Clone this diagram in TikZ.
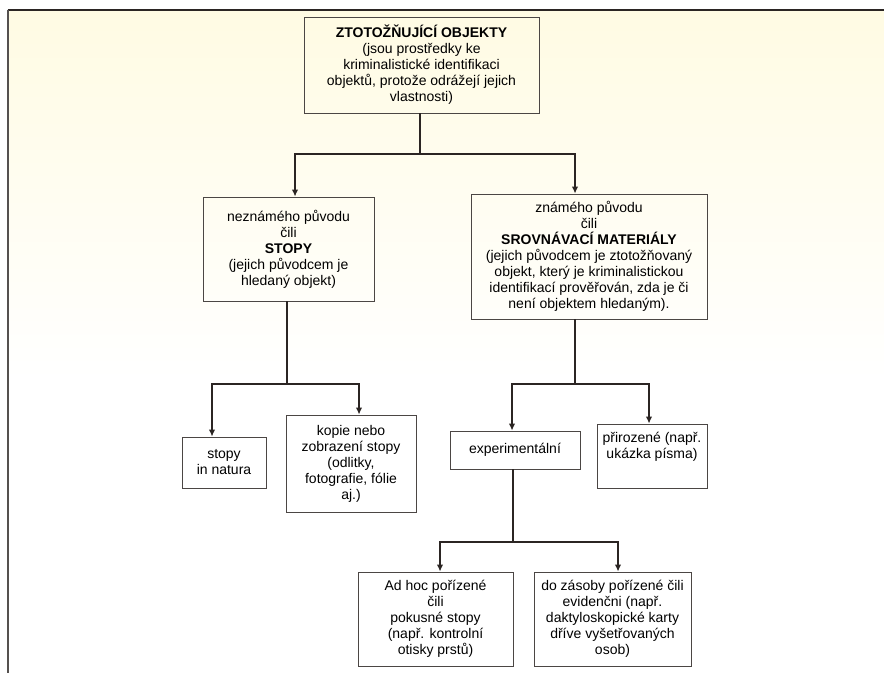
\documentclass[tikz,border=0pt]{standalone}
\usepackage{fontspec}
\setmainfont{Liberation Sans}
\usetikzlibrary{arrows.meta}
\definecolor{ink}{HTML}{2B2523}
\definecolor{paper}{HTML}{FFFBE3}
\begin{document}
\begin{tikzpicture}[x=1pt,y=-1pt,
	box/.style={draw=ink!85, line width=0.8pt, inner sep=0pt, align=center,
		font=\fontsize{14}{16}\selectfont},
	link/.style={draw=ink, line width=1.6pt},
	linkarrow/.style={link, -{Latex[length=7pt,width=6.5pt]}}]

	\useasboundingbox (0,0) rectangle (884,673);
	\shade[top color=paper, bottom color=white] (9,11) rectangle (884,380);
	\draw[ink, line width=2.6pt] (7.5,10) -- (884,10);
	\draw[ink!80, line width=1.8pt] (8,10) -- (8,673);

	\node (objekty) at (421.5,65) [box, minimum width=235, minimum height=96]
		{\textbf{ZTOTOŽŇUJÍCÍ OBJEKTY}\\(jsou prostředky ke\\kriminalistické identifikaci\\objektů, protože odrážejí jejich\\vlastnosti)};
	\node (stopy) at (288.5,249) [box, minimum width=171, minimum height=104]
		{neznámého původu\\čili\\\textbf{STOPY}\\(jejich původcem je\\hledaný objekt)};
	\node (srovnavaci) at (589,256.5) [box, minimum width=236, minimum height=125]
		{známého původu\\čili\\\textbf{SROVNÁVACÍ MATERIÁLY}\\(jejich původcem je ztotožňovaný\\objekt, který je kriminalistickou\\identifikací prověřován, zda je či\\není objektem hledaným).};
	\node (natura) at (224,462.5) [box, minimum width=84, minimum height=51]
		{stopy\\in natura};
	\node (kopie) at (351,463.5) [box, minimum width=130, minimum height=97]
		{kopie nebo\\zobrazení stopy\\(odlitky,\\fotografie, fólie\\aj.)};
	\node (experiment) at (515,450) [box, minimum width=130, minimum height=38]
		{experimentální};
	\node (prirozene) at (652,456) [box, minimum width=110, minimum height=64]
		{přirozené (např.\\ukázka písma)\\[6pt]};
	\node (adhoc) at (435.5,619) [box, minimum width=155, minimum height=94]
		{Ad hoc pořízené\\čili\\pokusné stopy\\(např. kontrolní\\otisky prstů)};
	\node (zasoba) at (612.5,619) [box, minimum width=157, minimum height=94]
		{do zásoby pořízené čili\\evidenčni (např.\\daktyloskopické karty\\dříve vyšetřovaných\\osob)};

	\coordinate (split_1) at (420,154);
	\coordinate (split_2) at (287,384);
	\coordinate (split_3) at (575,384);
	\coordinate (split_4) at (513,542);

	\draw[link] ([xshift=-1.5]objekty.south) -- (split_1);
	\draw[linkarrow] (split_1) -| ([xshift=6.5]stopy.north);
	\draw[linkarrow] (split_1) -| ([xshift=-14]srovnavaci.north);
	\draw[link] ([xshift=-1.5]stopy.south) -- (split_2);
	\draw[linkarrow] (split_2) -| ([xshift=-12]natura.north);
	\draw[linkarrow] (split_2) -| ([xshift=8]kopie.north);
	\draw[link] ([xshift=-14]srovnavaci.south) -- (split_3);
	\draw[linkarrow] (split_3) -| ([xshift=-3]experiment.north);
	\draw[linkarrow] (split_3) -| ([xshift=-3]prirozene.north);
	\draw[link] ([xshift=-2]experiment.south) -- (split_4);
	\draw[linkarrow] (split_4) -| ([xshift=4.5]adhoc.north);
	\draw[linkarrow] (split_4) -| ([xshift=5.5]zasoba.north);
\end{tikzpicture}
\end{document}
